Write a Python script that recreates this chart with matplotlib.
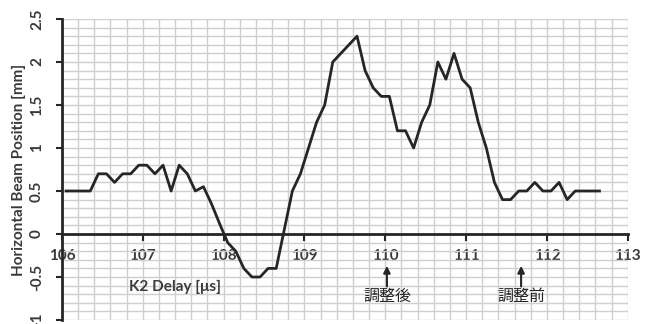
"""Horizontal beam position versus K2 delay."""

import matplotlib.pyplot as plt
import numpy as np

# K2 delay scan [us] and measured horizontal beam position [mm]
delay_us = [
    106.05, 106.15, 106.25, 106.35, 106.45, 106.55, 106.65, 106.75, 106.85, 106.95,
    107.05, 107.15, 107.25, 107.35, 107.45, 107.55, 107.65, 107.75, 107.85, 107.95,
    108.05, 108.15, 108.25, 108.35, 108.45, 108.55, 108.65, 108.75, 108.85, 108.95,
    109.05, 109.15, 109.25, 109.35, 109.45, 109.55, 109.65, 109.75, 109.85, 109.95,
    110.05, 110.15, 110.25, 110.35, 110.45, 110.55, 110.65, 110.75, 110.85, 110.95,
    111.05, 111.15, 111.25, 111.35, 111.45, 111.55, 111.65, 111.75, 111.85, 111.95,
    112.05, 112.15, 112.25, 112.35, 112.45, 112.55, 112.65,
]
position_mm = [
    0.5, 0.5, 0.5, 0.5, 0.7, 0.7, 0.6, 0.7, 0.7, 0.8,
    0.8, 0.7, 0.8, 0.5, 0.8, 0.7, 0.5, 0.55, 0.35, 0.12,
    -0.1, -0.2, -0.4, -0.5, -0.5, -0.4, -0.4, 0.05, 0.5, 0.7,
    1.0, 1.3, 1.5, 2.0, 2.1, 2.2, 2.3, 1.9, 1.7, 1.6,
    1.6, 1.2, 1.2, 1.0, 1.3, 1.5, 2.0, 1.8, 2.1, 1.8,
    1.7, 1.3, 1.0, 0.6, 0.4, 0.4, 0.5, 0.5, 0.6, 0.5,
    0.5, 0.6, 0.4, 0.5, 0.5, 0.5, 0.5,
]

# setting markers: (delay, label)
marker_delays = [110.02, 111.68]
marker_labels = ["調整後", "調整前"]

TEXT_COLOR = "#3a3a3a"
LINE_COLOR = "#262626"
GRID_COLOR = "#cfcfcf"

plt.rcParams["font.family"] = ["Lato", "DejaVu Sans"]

fig = plt.figure(figsize=(6.56, 3.24), dpi=100)
ax = fig.add_axes([0.0945, 0.0123, 0.8625, 0.9291])

ax.plot(delay_us, position_mm, color=LINE_COLOR, linewidth=2.0, zorder=3)

ax.set_xlim(106, 113)
ax.set_ylim(-1, 2.5)

# major ticks carry labels, minor ticks only draw the fine grid
ax.set_xticks(np.arange(106, 113.5, 1))
ax.set_xticks(np.arange(106, 113.01, 0.2), minor=True)
ax.set_yticks(np.arange(-1, 2.51, 0.5))
ax.set_yticks(np.arange(-1, 2.51, 0.1), minor=True)
ax.set_xticklabels([f"{v:g}" for v in np.arange(106, 113.5, 1)])
ax.set_yticklabels([f"{v:g}" for v in np.arange(-1, 2.51, 0.5)],
                   rotation=90, va="center")

ax.grid(True, which="both", color=GRID_COLOR, linewidth=1.0, zorder=0)
ax.set_axisbelow(True)

ax.spines["bottom"].set_position(("data", 0))
ax.spines["bottom"].set_linewidth(2.0)
ax.spines["left"].set_linewidth(2.0)
ax.spines["bottom"].set_color(LINE_COLOR)
ax.spines["left"].set_color(LINE_COLOR)
ax.spines["top"].set_visible(False)
ax.spines["right"].set_visible(False)

ax.tick_params(axis="both", which="minor", length=0)
ax.tick_params(axis="x", which="major", direction="out", length=5, width=1.5,
               color=LINE_COLOR, labelsize=11, labelcolor=TEXT_COLOR, pad=6)
ax.tick_params(axis="y", which="major", direction="out", length=4, width=1.5,
               color=LINE_COLOR, labelsize=11, labelcolor=TEXT_COLOR, pad=9)
for lab in ax.get_xticklabels() + ax.get_yticklabels():
    lab.set_fontweight("bold")

ax.set_ylabel("Horizontal Beam Position [mm]", fontsize=11, fontweight="bold",
              color=TEXT_COLOR)
ax.yaxis.set_label_coords(-0.063, 0.5)

ax.text(107.4, -0.62, "K2 Delay [μs]", fontsize=11, fontweight="bold",
        color=TEXT_COLOR, ha="center", va="center")

for xd, label in zip(marker_delays, marker_labels):
    ax.annotate("", xy=(xd, -0.37), xytext=(xd, -0.61),
                arrowprops=dict(arrowstyle="-|>", color=LINE_COLOR, lw=1.5,
                                mutation_scale=10, shrinkA=0, shrinkB=0))
    ax.text(xd, -0.73, label, fontsize=11.5, color=LINE_COLOR, ha="center",
            va="center", family=["Noto Sans CJK JP", "DejaVu Sans"])

fig.savefig("out.png", dpi=100)
